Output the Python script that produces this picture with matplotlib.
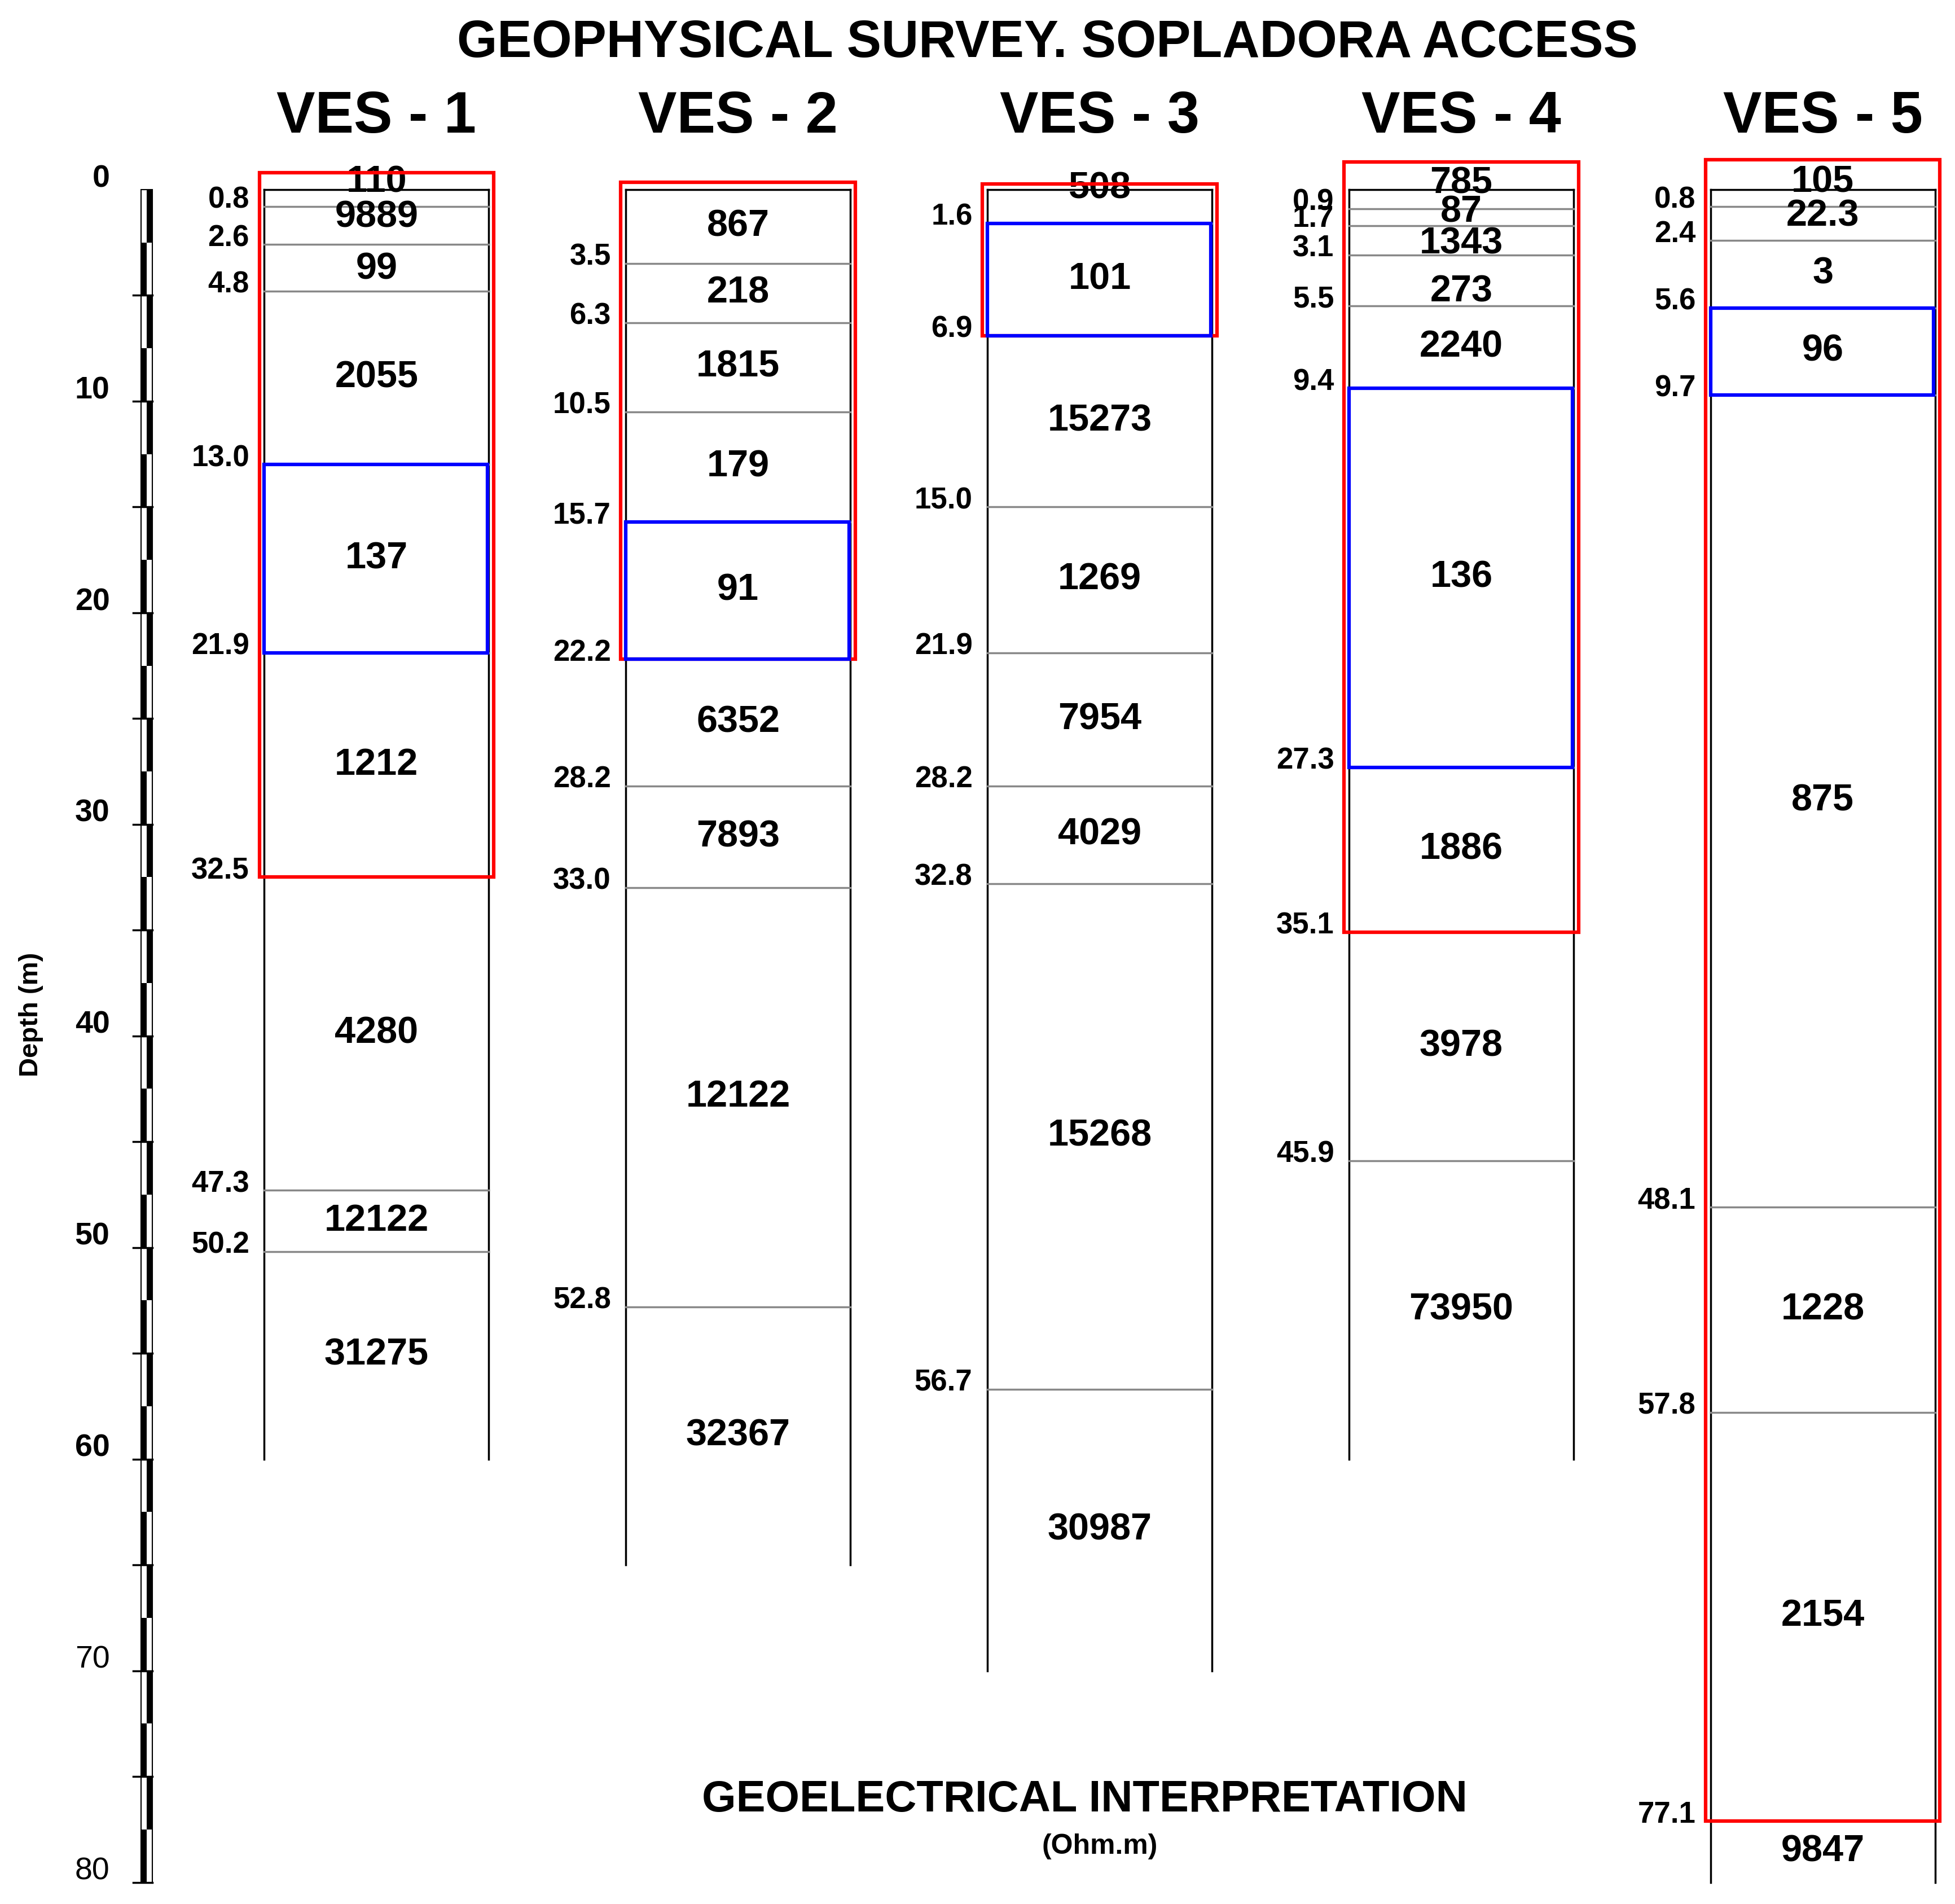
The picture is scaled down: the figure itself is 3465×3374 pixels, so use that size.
import matplotlib.pyplot as plt
from matplotlib.patches import Rectangle

plt.rcParams['font.family'] = ['Liberation Sans', 'DejaVu Sans']

# Layer boundaries (m), bottom of log (m) and resistivities (Ohm.m)
ves_names = ['VES - 1', 'VES - 2', 'VES - 3', 'VES - 4', 'VES - 5']
ves1_depths = [0.8, 2.6, 4.8, 13.0, 21.9, 32.5, 47.3, 50.2]
ves1_res = ['110', '9889', '99', '2055', '137', '1212', '4280', '12122', '31275']
ves2_depths = [3.5, 6.3, 10.5, 15.7, 22.2, 28.2, 33.0, 52.8]
ves2_res = ['867', '218', '1815', '179', '91', '6352', '7893', '12122', '32367']
ves3_depths = [1.6, 6.9, 15.0, 21.9, 28.2, 32.8, 56.7]
ves3_res = ['508', '101', '15273', '1269', '7954', '4029', '15268', '30987']
ves4_depths = [0.9, 1.7, 3.1, 5.5, 9.4, 27.3, 35.1, 45.9]
ves4_res = ['785', '87', '1343', '273', '2240', '136', '1886', '3978', '73950']
ves5_depths = [0.8, 2.4, 5.6, 9.7, 48.1, 57.8, 77.1]
ves5_res = ['105', '22.3', '3', '96', '875', '1228', '2154', '9847']
bottoms = [60, 65, 70, 60, 80]
# red zone (top, bottom) and blue zone (top, bottom)
red_zones = [(-0.8, 32.5), (-0.35, 22.2), (-0.25, 6.9), (-1.3, 35.1), (-1.4, 77.1)]
blue_zones = [(13.0, 21.9), (15.7, 22.2), (1.6, 6.9), (9.4, 27.3), (5.6, 9.7)]

all_depths = [ves1_depths, ves2_depths, ves3_depths, ves4_depths, ves5_depths]
all_res = [ves1_res, ves2_res, ves3_res, ves4_res, ves5_res]

W, H = 1568, 1527
y0, ppm = 152, 16.97
fig = plt.figure(figsize=(34.65, 33.74), dpi=100)
ax = fig.add_axes([0, 0, 1, 1])
ax.set_xlim(0, W)
ax.set_ylim((H - y0) / ppm, -y0 / ppm)
ax.axis('off')

col_x = [212, 502, 792, 1082, 1372]
cw = 180

for i in range(5):
    x = col_x[i]
    d = all_depths[i]
    bot = bottoms[i]
    ax.plot([x, x], [0, bot], color='black', lw=2.5)
    ax.plot([x + cw, x + cw], [0, bot], color='black', lw=2.5)
    ax.plot([x, x + cw], [0, 0], color='black', lw=2.5)
    for b in d:
        ax.plot([x, x + cw], [b, b], color='#888888', lw=2.5)
        ax.text(x - 12, b - 0.3, f'{b:.1f}', ha='right', va='center',
                fontsize=38, fontweight='bold')
    edges = [0] + d + [bot]
    for k, r in enumerate(all_res[i]):
        mid = (edges[k] + edges[k + 1]) / 2
        if edges[k + 1] - edges[k] < 2.5:
            mid = edges[k] + 0.35 * (edges[k + 1] - edges[k]) + 0.5 * k - 0.6
        ax.text(x + cw / 2, mid, r, ha='center',
                va='center', fontsize=48, fontweight='bold')
    rt, rb = red_zones[i]
    ax.add_patch(Rectangle((x - 4, rt), cw + 8, rb - rt, fill=False,
                           edgecolor='#ff0000', lw=4.5, zorder=5))
    bt, bb = blue_zones[i]
    ax.add_patch(Rectangle((x, bt), cw - 1, bb - bt, fill=False,
                           edgecolor='#0000ff', lw=4.5, zorder=6))
    ax.text(x + cw / 2, -3.4, ves_names[i], ha='center', va='center',
            fontsize=74, fontweight='bold')

# depth scale bar
sx, sw = 113, 9
ax.add_patch(Rectangle((sx, 0), sw, 80, fill=False, edgecolor='black', lw=1.5))
for k in range(32):
    top = k * 2.5
    xs = sx + sw / 2 if k % 2 == 0 else sx
    ax.add_patch(Rectangle((xs, top), sw / 2, 2.5, color='black', lw=0))
for t in range(5, 81, 5):
    ax.plot([sx - 6, sx + sw], [t, t], color='black', lw=2.5)
for t in range(0, 81, 10):
    ax.text(88, t - 0.5, str(t), ha='right', va='center', fontsize=40,
            fontweight='bold' if t < 70 else 'normal')
ax.text(25, 39, 'Depth (m)', rotation=90, ha='center', va='center',
        fontsize=34, fontweight='bold')

ax.text(840, -6.9, 'GEOPHYSICAL SURVEY. SOPLADORA ACCESS', ha='center',
        va='center', fontsize=66, fontweight='bold')
ax.text(870, 76.1, 'GEOELECTRICAL INTERPRETATION', ha='center', va='center',
        fontsize=56, fontweight='bold')
ax.text(882, 78.3, '(Ohm.m)', ha='center', va='center', fontsize=36,
        fontweight='bold')

fig.savefig('out.png', dpi=100, facecolor='white')
